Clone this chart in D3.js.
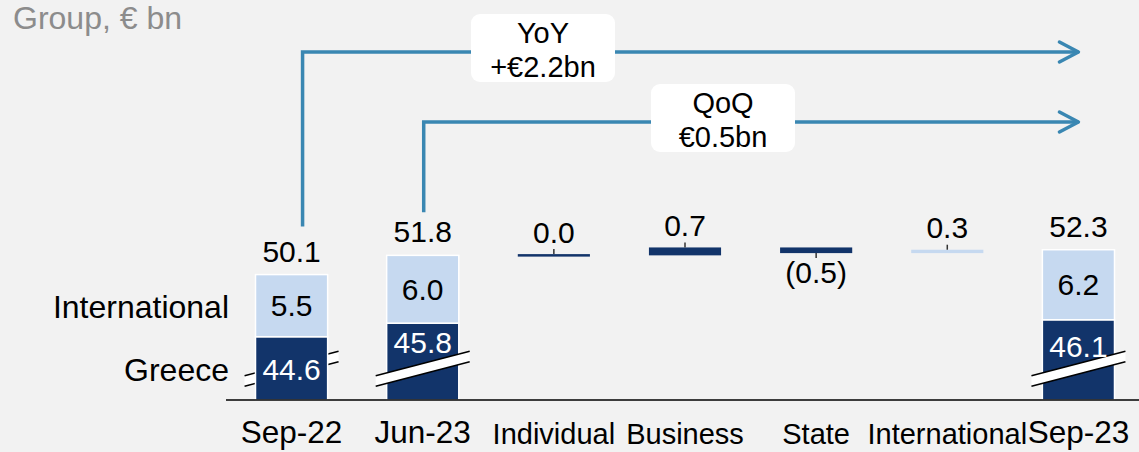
<!DOCTYPE html>
<html>
<head>
<meta charset="utf-8">
<script src="https://cdn.jsdelivr.net/npm/d3@7"></script>
<style>
  html, body {margin:0; padding:0; background:#f2f2f2;}
  svg {display:block; font-family:"Liberation Sans", Arial, sans-serif;}
</style>
</head>
<body>
<svg id="chart" width="1139" height="452"></svg>
<script>
// data
var categories = ["Sep-22", "Jun-23", "Individual", "Business", "State", "International", "Sep-23"];
var stackCats = ["Sep-22", "Jun-23", "Sep-23"];
var greece = [44.6, 45.8, 46.1];
var international = [5.5, 6.0, 6.2];
var totals = [50.1, 51.8, 52.3];
var stepCats = ["Individual", "Business", "State", "International"];
var steps = [0.0, 0.7, -0.5, 0.3];
var bridgeFrom = ["Sep-22", "Jun-23"];
var bridgeText = [["YoY", "+€2.2bn"], ["QoQ", "€0.5bn"]];

var W = 1139, H = 452;
var dark = "#12346a", light = "#c6d9f0", arrowCol = "#3a87b2";
var base = 400; // axis line
var svg = d3.select("#chart");

var x = d3.scaleBand().domain(categories).range([226, 1144]).paddingInner(0.45).paddingOuter(0.225);
// axis is broken: visible part starts at 39
var y = d3.scaleLinear().domain([39, 53]).range([base, base - 14 * 11.3]);
var bw = x.bandwidth();
function cx(c) { return x(c) + bw / 2; }

// break marks (parallelogram with black edges)
function drawBreak(g, c) {
  var m = cx(c), half = 47, t = 363.5, sl = 0.26, th = 10.5;
  var p = [[m - half, t + half * sl], [m + half, t - half * sl], [m + half, t - half * sl + th], [m - half, t + half * sl + th]];
  g.append("polygon").attr("points", p.map(function(d){return d.join(",");}).join(" ")).attr("fill", "#fff");
  g.append("line").attr("x1", p[0][0]).attr("y1", p[0][1]).attr("x2", p[1][0]).attr("y2", p[1][1]).attr("stroke", "#000").attr("stroke-width", 1.5);
  g.append("line").attr("x1", p[3][0]).attr("y1", p[3][1]).attr("x2", p[2][0]).attr("y2", p[2][1]).attr("stroke", "#000").attr("stroke-width", 1.5);
}

var back = svg.append("g");
drawBreak(back, "Sep-22");

// stacked bars
var bars = svg.append("g");
stackCats.forEach(function(c, i) {
  bars.append("rect").attr("x", x(c)).attr("width", bw)
    .attr("y", y(greece[i])).attr("height", y.range()[0] - y(greece[i]))
    .attr("fill", dark).attr("stroke", "#fff").attr("stroke-width", 1.5);
  bars.append("rect").attr("x", x(c)).attr("width", bw)
    .attr("y", y(totals[i])).attr("height", y(greece[i]) - y(totals[i]))
    .attr("fill", light).attr("stroke", "#fff").attr("stroke-width", 1.5);
});

var front = svg.append("g");
drawBreak(front, "Jun-23");
drawBreak(front, "Sep-23");

// labels on stacks
stackCats.forEach(function(c, i) {
  var yt = y(totals[i]), yg = y(greece[i]);
  svg.append("text").attr("x", cx(c)).attr("y", yt - 13).attr("text-anchor", "middle")
    .attr("font-size", 30).attr("fill", "#000").text(totals[i].toFixed(1));
  svg.append("text").attr("x", cx(c)).attr("y", (yt + yg) / 2 + 10.5).attr("text-anchor", "middle")
    .attr("font-size", 30).attr("fill", "#000").text(international[i].toFixed(1));
  // dark label sits above the break when the break crosses the bar
  var gy = i == 0 ? (yg + base) / 2 + 12 : (yg + 363) / 2 + 10;
  if (i == 2) gy += 6;
  svg.append("text").attr("x", cx(c)).attr("y", gy).attr("text-anchor", "middle")
    .attr("font-size", 30).attr("fill", "#fff").text(greece[i].toFixed(1));
});

// waterfall steps
var run = totals[1];
var wf = svg.append("g");
stepCats.forEach(function(c, i) {
  var v = steps[i], a = run, b = run + v;
  var top = y(Math.max(a, b)), bot = y(Math.min(a, b));
  var h = Math.max(bot - top, 2.5);
  if (bot - top < 2.5) top = top - 1.25;
  wf.append("rect").attr("x", x(c)).attr("width", bw).attr("y", top).attr("height", h)
    .attr("fill", c == "International" ? light : dark);
  var lab = v < 0 ? "(" + Math.abs(v).toFixed(1) + ")" : v.toFixed(1);
  if (v < 0) {
    wf.append("line").attr("x1", cx(c)).attr("x2", cx(c)).attr("y1", top + h).attr("y2", top + h + 5)
      .attr("stroke", "#333").attr("stroke-width", 1.5);
    wf.append("text").attr("x", cx(c)).attr("y", top + h + 30).attr("text-anchor", "middle")
      .attr("font-size", 30).attr("fill", "#000").text(lab);
  } else {
    wf.append("line").attr("x1", cx(c)).attr("x2", cx(c)).attr("y1", top).attr("y2", top - 5)
      .attr("stroke", "#333").attr("stroke-width", 1.5);
    wf.append("text").attr("x", cx(c)).attr("y", top - 11.5).attr("text-anchor", "middle")
      .attr("font-size", 30).attr("fill", "#000").text(lab);
  }
  run = b;
});

// baseline
svg.append("line").attr("x1", 226).attr("x2", W).attr("y1", base).attr("y2", base)
  .attr("stroke", "#000").attr("stroke-width", 1.5);

// category labels
categories.forEach(function(c) {
  var big = stackCats.indexOf(c) > -1;
  svg.append("text").attr("x", cx(c)).attr("y", big ? 443 : 444).attr("text-anchor", "middle")
    .attr("font-size", big ? 31.5 : 29).attr("fill", "#000").text(c);
});

// series labels on the left
svg.append("text").attr("x", 229).attr("y", 318).attr("text-anchor", "end").attr("font-size", 32).text("International");
svg.append("text").attr("x", 229).attr("y", 381).attr("text-anchor", "end").attr("font-size", 32).text("Greece");

// unit
svg.append("text").attr("x", 13).attr("y", 29).attr("font-size", 32).attr("fill", "#8c8c8c").text("Group, € bn");

// YoY / QoQ bridges
var lineY = [52, 122], dropX = [11, 1], dropGap = [48, 43], boxX = [543, 723];
var tip = cx("Sep-23");
bridgeFrom.forEach(function(c, i) {
  var k = stackCats.indexOf(c);
  var x0 = cx(c) + dropX[i], y0 = y(totals[k]) - dropGap[i];
  var g = svg.append("g").attr("fill", "none").attr("stroke", arrowCol).attr("stroke-width", 3.5);
  g.append("path").attr("d", d3.line()([[x0, y0], [x0, lineY[i]], [tip, lineY[i]]]));
  g.append("path").attr("d", d3.line()([[tip - 19, lineY[i] - 10], [tip, lineY[i]], [tip - 19, lineY[i] + 10]]))
    .attr("stroke-linecap", "round").attr("stroke-linejoin", "round");
  var bx = svg.append("g");
  bx.append("rect").attr("x", boxX[i] - 72).attr("y", lineY[i] - 38).attr("width", 144).attr("height", 68)
    .attr("rx", 9).attr("fill", "#fff");
  bx.append("text").attr("x", boxX[i]).attr("y", lineY[i] - 9).attr("text-anchor", "middle")
    .attr("font-size", 29).attr("fill", "#000").text(bridgeText[i][0]);
  bx.append("text").attr("x", boxX[i]).attr("y", lineY[i] + 25).attr("text-anchor", "middle")
    .attr("font-size", 29).attr("fill", "#000").text(bridgeText[i][1]);
});
</script>
</body>
</html>
